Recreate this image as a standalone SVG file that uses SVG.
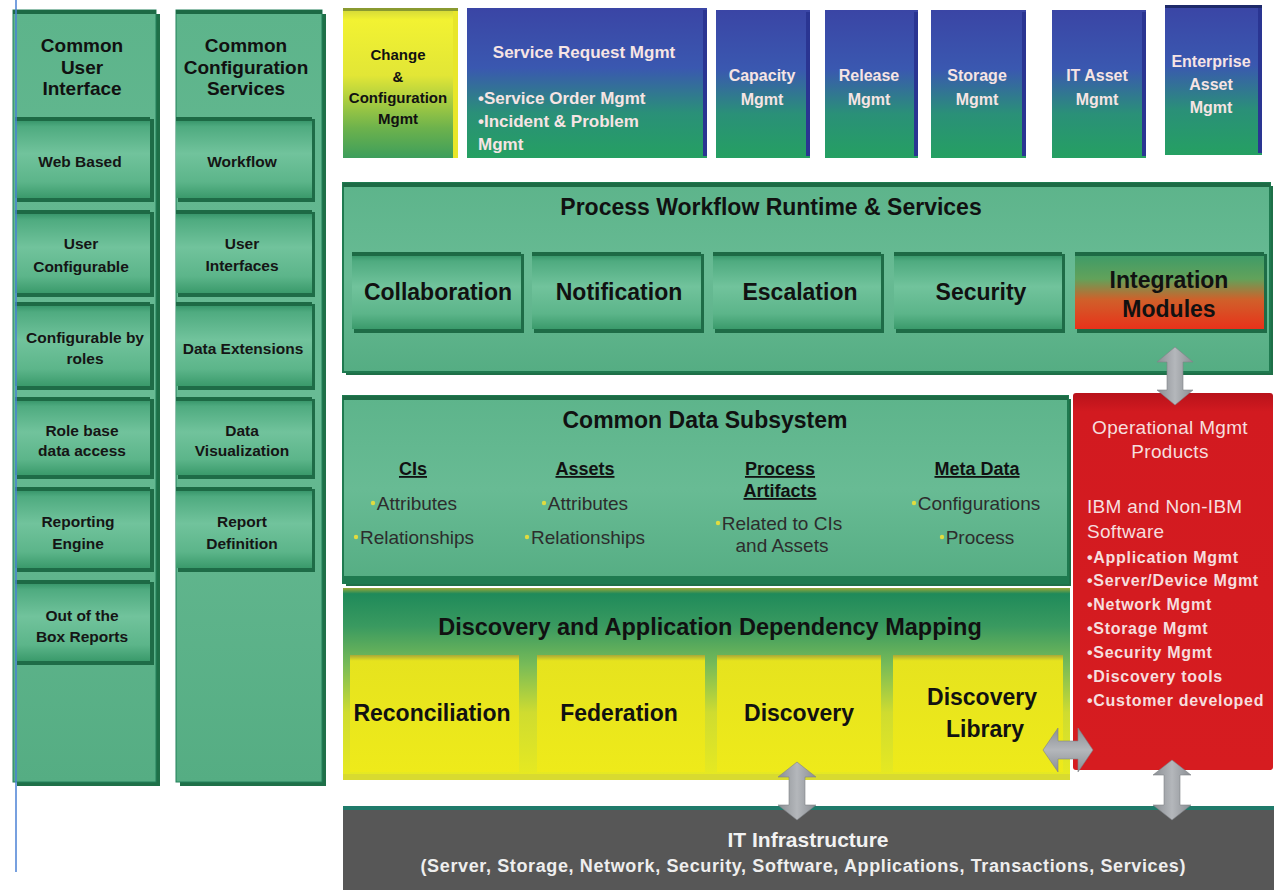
<svg xmlns="http://www.w3.org/2000/svg" width="1274" height="890" viewBox="0 0 1274 890">
<defs>
<linearGradient id="gCol" x1="0" y1="0" x2="0" y2="1"><stop offset="0" stop-color="#5db48b"/><stop offset="0.5" stop-color="#68bb94"/><stop offset="1" stop-color="#55ad83"/></linearGradient>
<linearGradient id="gSub" x1="0" y1="0" x2="0" y2="1"><stop offset="0" stop-color="#2a8a5e"/><stop offset="0.12" stop-color="#4fab80"/><stop offset="0.45" stop-color="#71c39c"/><stop offset="0.8" stop-color="#5cb58a"/><stop offset="1" stop-color="#3a9a6b"/></linearGradient>
<linearGradient id="gBlue" x1="0" y1="0" x2="0" y2="1"><stop offset="0" stop-color="#3a45a5"/><stop offset="0.4" stop-color="#3a58b0"/><stop offset="0.7" stop-color="#2a9078"/><stop offset="1" stop-color="#25a062"/></linearGradient>
<linearGradient id="gChange" x1="0" y1="0" x2="0" y2="1"><stop offset="0" stop-color="#cfd43a"/><stop offset="0.08" stop-color="#f2f232"/><stop offset="0.45" stop-color="#e2e636"/><stop offset="0.8" stop-color="#6db24c"/><stop offset="1" stop-color="#3d9e5c"/></linearGradient>
<linearGradient id="gInteg" x1="0" y1="0" x2="0" y2="1"><stop offset="0" stop-color="#3a9a6a"/><stop offset="0.35" stop-color="#62a25a"/><stop offset="0.62" stop-color="#d0602a"/><stop offset="1" stop-color="#e8321a"/></linearGradient>
<linearGradient id="gDisc" x1="0" y1="0" x2="0" y2="1"><stop offset="0" stop-color="#9aa838"/><stop offset="0.03" stop-color="#1f8a5a"/><stop offset="0.2" stop-color="#3a9a60"/><stop offset="0.4" stop-color="#78bb58"/><stop offset="0.65" stop-color="#cfdc30"/><stop offset="1" stop-color="#e8ea20"/></linearGradient>
<linearGradient id="gYel" x1="0" y1="0" x2="0" y2="1"><stop offset="0" stop-color="#a8a838"/><stop offset="0.05" stop-color="#e6e31e"/><stop offset="1" stop-color="#eeea1a"/></linearGradient>
<linearGradient id="gRed" x1="0" y1="0" x2="0" y2="1"><stop offset="0" stop-color="#b8121a"/><stop offset="0.05" stop-color="#d21a20"/><stop offset="1" stop-color="#d61c20"/></linearGradient>
<linearGradient id="gArrV" x1="0" y1="0" x2="1" y2="0"><stop offset="0" stop-color="#8a8e93"/><stop offset="0.5" stop-color="#b4b7bb"/><stop offset="1" stop-color="#8a8e93"/></linearGradient>
<linearGradient id="gArrH" x1="0" y1="0" x2="0" y2="1"><stop offset="0" stop-color="#8a8e93"/><stop offset="0.5" stop-color="#b4b7bb"/><stop offset="1" stop-color="#8a8e93"/></linearGradient>
<style>
.t{font-family:"Liberation Sans",Arial,sans-serif;}
.hd{font-family:"Liberation Sans",Arial,sans-serif;font-weight:bold;fill:#111;text-anchor:middle;font-size:19px;}
.sl{font-family:"Liberation Sans",Arial,sans-serif;font-weight:bold;fill:#151515;text-anchor:middle;font-size:15.5px;}
.big{font-family:"Liberation Sans",Arial,sans-serif;font-weight:bold;fill:#111;text-anchor:middle;font-size:23px;}
.ttl{font-family:"Liberation Sans",Arial,sans-serif;font-weight:bold;fill:#111;text-anchor:middle;font-size:23px;}
.chg{font-family:"Liberation Sans",Arial,sans-serif;font-weight:bold;fill:#111;text-anchor:middle;font-size:15px;}
.wt{font-family:"Liberation Sans",Arial,sans-serif;font-weight:bold;fill:#f6e4e4;text-anchor:middle;font-size:16px;}
.wl{font-family:"Liberation Sans",Arial,sans-serif;font-weight:bold;fill:#f6e4e4;text-anchor:start;font-size:17px;}
.sub{font-family:"Liberation Sans",Arial,sans-serif;font-weight:bold;fill:#111;text-anchor:middle;font-size:18px;text-decoration:underline;}
.itm{font-family:"Liberation Sans",Arial,sans-serif;fill:#2d2d2d;text-anchor:middle;font-size:19px;}
.rd{font-family:"Liberation Sans",Arial,sans-serif;fill:#f6dede;font-size:19px;letter-spacing:0.3px;}
.rdc{font-family:"Liberation Sans",Arial,sans-serif;fill:#f6dede;font-size:19px;letter-spacing:0.3px;text-anchor:middle;}
.rb{font-family:"Liberation Sans",Arial,sans-serif;font-weight:bold;fill:#f6dede;font-size:16px;letter-spacing:0.7px;}
.colbg{fill:url(#gCol);stroke:#23805a;stroke-width:1;}
.colsh{fill:#1f7048;}
.sb{fill:url(#gSub);}
.sbsh{fill:#1e6c47;}
.band{fill:#1d6a45;}
.blue{fill:url(#gBlue);}
.bside{fill:#2a3592;}
.yel{fill:url(#gYel);}
.arr{stroke:#7f8388;stroke-width:0.6;}
.dot{fill:#e0dc40;}
</style>
</defs>
<rect width="1274" height="890" fill="#ffffff"/>

<!-- Column 1 -->
<g id="col-user-interface">
<rect class="colsh" x="17" y="14" width="143" height="772"/>
<rect class="colbg" x="13" y="10" width="143" height="772"/>
<rect class="band" x="13" y="10" width="143" height="4"/>
<text class="hd" x="82" y="52">Common</text>
<text class="hd" x="82" y="74">User</text>
<text class="hd" x="82" y="95">Interface</text>
</g>
<g id="ui-web-based"><rect class="sbsh" x="17" y="119" width="137" height="83"/><rect class="sb" x="15" y="117" width="135" height="81"/><rect class="band" x="15" y="117" width="135" height="4"/><text class="sl" x="80" y="167">Web Based</text></g>
<g id="ui-user-configurable"><rect class="sbsh" x="17" y="212" width="137" height="85"/><rect class="sb" x="15" y="210" width="135" height="83"/><rect class="band" x="15" y="210" width="135" height="4"/><text class="sl" x="81" y="249">User</text><text class="sl" x="81" y="272">Configurable</text></g>
<g id="ui-config-roles"><rect class="sbsh" x="17" y="304" width="137" height="86"/><rect class="sb" x="15" y="302" width="135" height="84"/><rect class="band" x="15" y="302" width="135" height="4"/><text class="sl" x="85" y="343">Configurable by</text><text class="sl" x="85" y="364">roles</text></g>
<g id="ui-role-access"><rect class="sbsh" x="17" y="399" width="137" height="80"/><rect class="sb" x="15" y="397" width="135" height="78"/><rect class="band" x="15" y="397" width="135" height="4"/><text class="sl" x="82" y="436">Role base</text><text class="sl" x="82" y="456">data access</text></g>
<g id="ui-reporting-engine"><rect class="sbsh" x="17" y="489" width="137" height="83"/><rect class="sb" x="15" y="487" width="135" height="81"/><rect class="band" x="15" y="487" width="135" height="4"/><text class="sl" x="78" y="527">Reporting</text><text class="sl" x="78" y="549">Engine</text></g>
<g id="ui-box-reports"><rect class="sbsh" x="17" y="582" width="137" height="83"/><rect class="sb" x="15" y="580" width="135" height="81"/><rect class="band" x="15" y="580" width="135" height="4"/><text class="sl" x="82" y="621">Out of the</text><text class="sl" x="82" y="642">Box Reports</text></g>

<!-- Column 2 -->
<g id="col-config-services">
<rect class="colsh" x="180" y="14" width="146" height="772"/>
<rect class="colbg" x="176" y="10" width="146" height="772"/>
<rect class="band" x="176" y="10" width="146" height="4"/>
<text class="hd" x="246" y="52">Common</text>
<text class="hd" x="246" y="74">Configuration</text>
<text class="hd" x="246" y="95">Services</text>
</g>
<g id="cs-workflow"><rect class="sbsh" x="178" y="119" width="137" height="83"/><rect class="sb" x="176" y="117" width="136" height="81"/><rect class="band" x="176" y="117" width="136" height="4"/><text class="sl" x="242" y="167">Workflow</text></g>
<g id="cs-user-interfaces"><rect class="sbsh" x="178" y="212" width="137" height="85"/><rect class="sb" x="176" y="210" width="136" height="83"/><rect class="band" x="176" y="210" width="136" height="4"/><text class="sl" x="242" y="249">User</text><text class="sl" x="242" y="271">Interfaces</text></g>
<g id="cs-data-extensions"><rect class="sbsh" x="178" y="304" width="137" height="86"/><rect class="sb" x="176" y="302" width="136" height="84"/><rect class="band" x="176" y="302" width="136" height="4"/><text class="sl" x="243" y="354">Data Extensions</text></g>
<g id="cs-data-visualization"><rect class="sbsh" x="178" y="399" width="137" height="80"/><rect class="sb" x="176" y="397" width="136" height="78"/><rect class="band" x="176" y="397" width="136" height="4"/><text class="sl" x="242" y="436">Data</text><text class="sl" x="242" y="456">Visualization</text></g>
<g id="cs-report-definition"><rect class="sbsh" x="178" y="489" width="137" height="83"/><rect class="sb" x="176" y="487" width="136" height="81"/><rect class="band" x="176" y="487" width="136" height="4"/><text class="sl" x="242" y="527">Report</text><text class="sl" x="242" y="549">Definition</text></g>

<!-- Top row -->
<g id="top-change-config">
<rect x="343" y="8" width="115" height="150" fill="url(#gChange)"/>
<rect x="453" y="10" width="5" height="148" fill="#e8e62a"/>
<rect x="343" y="8" width="115" height="3" fill="#8a9a30"/>
<text class="chg" x="398" y="60">Change</text>
<text class="chg" x="398" y="82">&amp;</text>
<text class="chg" x="398" y="103">Configuration</text>
<text class="chg" x="398" y="124">Mgmt</text>
</g>
<g id="top-service-request">
<rect class="blue" x="467" y="8" width="240" height="150"/>
<rect class="bside" x="703" y="10" width="4" height="146"/>
<text class="wt" x="584" y="58" font-size="17" style="font-size:17px">Service Request Mgmt</text>
<text class="wl" x="478" y="104">•Service Order Mgmt</text>
<text class="wl" x="478" y="127">•Incident &amp; Problem</text>
<text class="wl" x="478" y="150">Mgmt</text>
</g>
<g id="top-capacity">
<rect class="blue" x="716" y="10" width="94" height="148"/><rect class="bside" x="806" y="12" width="4" height="144"/>
<text class="wt" x="762" y="81">Capacity</text><text class="wt" x="762" y="105">Mgmt</text>
</g>
<g id="top-release">
<rect class="blue" x="825" y="10" width="93" height="148"/><rect class="bside" x="914" y="12" width="4" height="144"/>
<text class="wt" x="869" y="81">Release</text><text class="wt" x="869" y="105">Mgmt</text>
</g>
<g id="top-storage">
<rect class="blue" x="931" y="10" width="95" height="148"/><rect class="bside" x="1022" y="12" width="4" height="144"/>
<text class="wt" x="977" y="81">Storage</text><text class="wt" x="977" y="105">Mgmt</text>
</g>
<g id="top-it-asset">
<rect class="blue" x="1052" y="10" width="94" height="148"/><rect class="bside" x="1142" y="12" width="4" height="144"/>
<text class="wt" x="1097" y="81">IT Asset</text><text class="wt" x="1097" y="105">Mgmt</text>
</g>
<g id="top-enterprise-asset">
<rect class="blue" x="1165" y="5" width="97" height="150"/><rect class="bside" x="1258" y="7" width="4" height="146"/>
<rect x="1165" y="5" width="97" height="3" fill="#1e2a6a"/>
<text class="wt" x="1211" y="67">Enterprise</text><text class="wt" x="1211" y="90">Asset</text><text class="wt" x="1211" y="113">Mgmt</text>
</g>

<!-- Process Workflow -->
<g id="process-workflow">
<rect x="346" y="186" width="927" height="189" fill="#1f7048"/>
<rect x="343" y="183" width="927" height="189" fill="url(#gCol)" stroke="#1f7a50" stroke-width="2"/>
<rect x="343" y="183" width="927" height="4" fill="#1d6a45"/>
<text class="ttl" x="771" y="215">Process Workflow Runtime &amp; Services</text>
</g>
<g id="pw-collaboration"><rect class="sbsh" x="354" y="254" width="170" height="79"/><rect class="sb" x="352" y="252" width="169" height="77"/><rect class="band" x="352" y="252" width="169" height="4"/><text class="big" x="438" y="300">Collaboration</text></g>
<g id="pw-notification"><rect class="sbsh" x="534" y="254" width="170" height="79"/><rect class="sb" x="532" y="252" width="169" height="77"/><rect class="band" x="532" y="252" width="169" height="4"/><text class="big" x="619" y="300">Notification</text></g>
<g id="pw-escalation"><rect class="sbsh" x="715" y="254" width="169" height="79"/><rect class="sb" x="713" y="252" width="168" height="77"/><rect class="band" x="713" y="252" width="168" height="4"/><text class="big" x="800" y="300">Escalation</text></g>
<g id="pw-security"><rect class="sbsh" x="896" y="254" width="169" height="79"/><rect class="sb" x="894" y="252" width="168" height="77"/><rect class="band" x="894" y="252" width="168" height="4"/><text class="big" x="981" y="300">Security</text></g>
<g id="pw-integration-modules"><rect class="sbsh" x="1077" y="254" width="190" height="79"/><rect x="1075" y="252" width="189" height="77" fill="url(#gInteg)"/><rect class="band" x="1075" y="252" width="189" height="4"/><text class="big" x="1169" y="288">Integration</text><text class="big" x="1169" y="317">Modules</text></g>

<!-- Common Data Subsystem -->
<g id="common-data">
<rect x="346" y="399" width="725" height="187" fill="#1f7048"/>
<rect x="343" y="396" width="725" height="187" fill="url(#gCol)" stroke="#1f7a50" stroke-width="2"/>
<rect x="343" y="396" width="725" height="4" fill="#1d6a45"/>
<rect x="343" y="576" width="725" height="7" fill="#1f7a50"/>
<text class="ttl" x="705" y="428">Common Data Subsystem</text>
<text class="sub" x="413" y="475">CIs</text>
<circle class="dot" cx="373" cy="503" r="2.2"/><text class="itm" x="417" y="510">Attributes</text>
<circle class="dot" cx="356" cy="537" r="2.2"/><text class="itm" x="417" y="544">Relationships</text>
<text class="sub" x="585" y="475">Assets</text>
<circle class="dot" cx="544" cy="503" r="2.2"/><text class="itm" x="588" y="510">Attributes</text>
<circle class="dot" cx="527" cy="537" r="2.2"/><text class="itm" x="588" y="544">Relationships</text>
<text class="sub" x="780" y="475">Process</text>
<text class="sub" x="780" y="497">Artifacts</text>
<circle class="dot" cx="718" cy="523" r="2.2"/><text class="itm" x="782" y="530">Related to CIs</text>
<text class="itm" x="782" y="552">and Assets</text>
<text class="sub" x="977" y="475">Meta Data</text>
<circle class="dot" cx="914" cy="503" r="2.2"/><text class="itm" x="979" y="510">Configurations</text>
<circle class="dot" cx="942" cy="537" r="2.2"/><text class="itm" x="980" y="544">Process</text>
</g>

<!-- Operational Mgmt Products -->
<g id="operational-mgmt">
<rect x="1073" y="393" width="200" height="377" rx="3" fill="url(#gRed)"/>
<text class="rdc" x="1170" y="434">Operational Mgmt</text>
<text class="rdc" x="1170" y="458">Products</text>
<text class="rd" x="1087" y="513">IBM and Non-IBM</text>
<text class="rd" x="1087" y="538">Software</text>
<text class="rb" x="1087" y="563">•Application Mgmt</text>
<text class="rb" x="1087" y="586">•Server/Device Mgmt</text>
<text class="rb" x="1087" y="610">•Network Mgmt</text>
<text class="rb" x="1087" y="634">•Storage Mgmt</text>
<text class="rb" x="1087" y="658">•Security Mgmt</text>
<text class="rb" x="1087" y="682">•Discovery tools</text>
<text class="rb" x="1087" y="706">•Customer developed</text>
</g>

<!-- Discovery -->
<g id="discovery-adm">
<rect x="343" y="588" width="727" height="192" fill="url(#gDisc)"/>
<rect x="343" y="774" width="727" height="6" fill="#d8da30"/>
<text class="ttl" x="710" y="635" style="font-size:23.5px">Discovery and Application Dependency Mapping</text>
</g>
<g id="dm-reconciliation"><rect class="yel" x="350" y="655" width="169" height="117"/><text class="big" x="432" y="721">Reconciliation</text></g>
<g id="dm-federation"><rect class="yel" x="537" y="655" width="168" height="117"/><text class="big" x="619" y="721">Federation</text></g>
<g id="dm-discovery"><rect class="yel" x="717" y="655" width="164" height="117"/><text class="big" x="799" y="721">Discovery</text></g>
<g id="dm-discovery-library"><rect class="yel" x="893" y="655" width="170" height="117"/><text class="big" x="982" y="705">Discovery</text><text class="big" x="985" y="737">Library</text></g>

<!-- IT Infrastructure -->
<g id="it-infrastructure">
<rect x="343" y="806" width="931" height="84" fill="#575757"/>
<rect x="343" y="806" width="931" height="4" fill="#1f7a6a"/>
<text class="t" x="808" y="847" font-size="21" font-weight="bold" fill="#f2f2f2" text-anchor="middle">IT Infrastructure</text>
<text class="t" x="803" y="872" font-size="18" font-weight="bold" fill="#eeeeee" text-anchor="middle" textLength="765" lengthAdjust="spacing">(Server, Storage, Network, Security, Software, Applications, Transactions, Services)</text>
</g>

<!-- Connectors -->
<g id="connectors">
<polygon class="arr" fill="url(#gArrV)" points="1175,347 1193,362 1183,362 1183,390 1193,390 1175,405 1157,390 1167,390 1167,362 1157,362"/>
<polygon class="arr" fill="url(#gArrV)" points="797,762 816,777 805,777 805,805 816,805 797,820 778,805 789,805 789,777 778,777"/>
<polygon class="arr" fill="url(#gArrV)" points="1172,760 1191,775 1180,775 1180,805 1191,805 1172,820 1153,805 1164,805 1164,775 1153,775"/>
<polygon class="arr" fill="url(#gArrH)" points="1043,750 1058,728 1058,741 1078,741 1078,728 1093,750 1078,772 1078,759 1058,759 1058,772"/>
</g>

<g id="margin-line">
<line x1="16" y1="0" x2="16" y2="872" stroke="#4a80d4" stroke-width="1.5"/>
</g>
</svg>
